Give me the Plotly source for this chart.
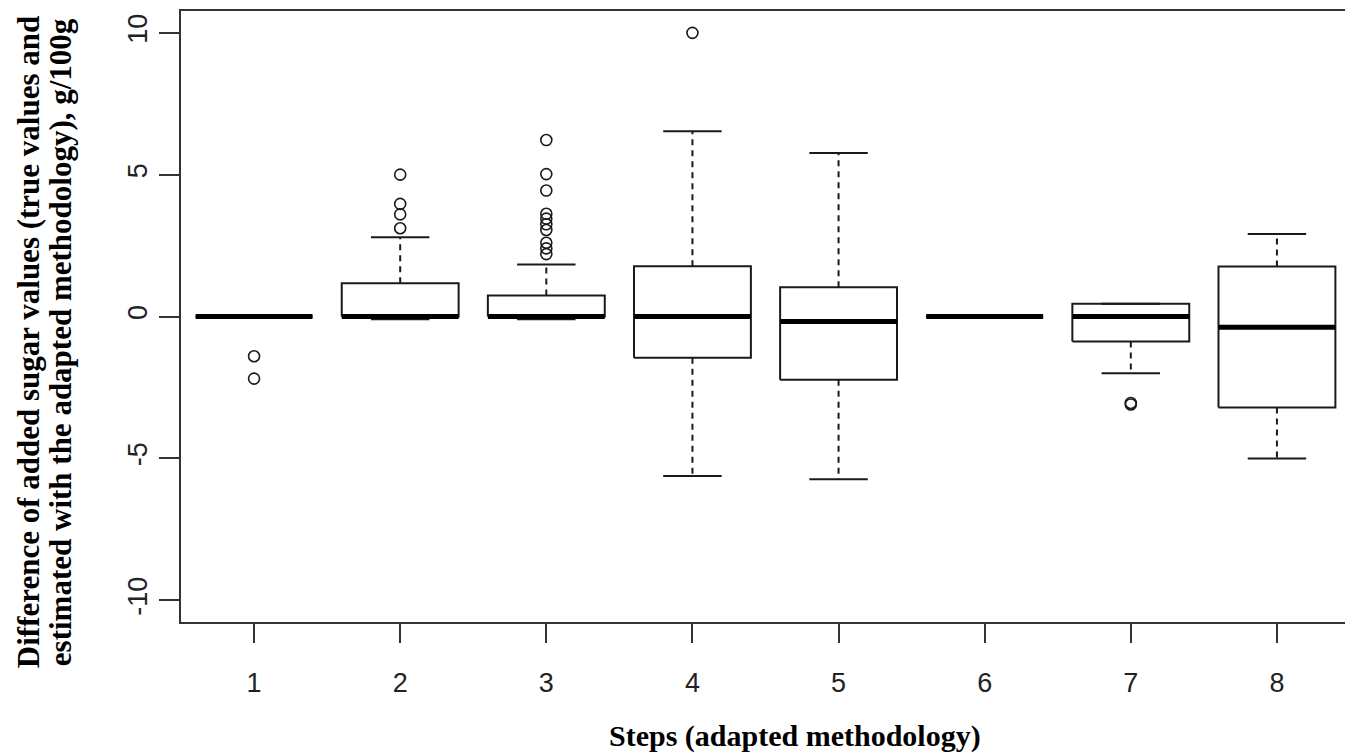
import plotly.graph_objects as go

# ---- data ----
steps = [1, 2, 3, 4, 5, 6, 7, 8]
tick_labels = ["1", "2", "3", "4", "5", "6", "7", "8"]
q1 = [0.0, 0.0, 0.0, -1.45, -2.23, 0.0, -0.88, -3.21]
median = [0.0, 0.0, 0.0, 0.0, -0.18, 0.0, 0.0, -0.38]
q3 = [0.0, 1.17, 0.74, 1.77, 1.03, 0.0, 0.45, 1.76]
lower_whisker = [0.0, -0.1, -0.1, -5.62, -5.74, 0.0, -2.0, -5.01]
upper_whisker = [0.0, 2.79, 1.83, 6.53, 5.76, 0.0, 0.45, 2.91]

outlier_step = [1, 1,
                2, 2, 2, 2,
                3, 3, 3, 3, 3, 3, 3, 3, 3, 3,
                4,
                7, 7]
outlier_value = [-1.4, -2.19,
                 3.11, 3.6, 3.97, 5.0,
                 6.22, 5.02, 4.44, 3.62, 3.45, 3.25, 3.05, 2.6, 2.4, 2.2,
                 10.0,
                 -3.05, -3.1]

y_ticks = [-10, -5, 0, 5, 10]

# ---- style ----
INK = "#1a1a1a"
BOX_HALF = 0.4
CAP_HALF = 0.2

fig = go.Figure()

for i, s in enumerate(steps):
    # box rectangle
    fig.add_trace(go.Scatter(
        x=[s - BOX_HALF, s + BOX_HALF, s + BOX_HALF, s - BOX_HALF, s - BOX_HALF],
        y=[q1[i], q1[i], q3[i], q3[i], q1[i]],
        mode="lines", line=dict(color=INK, width=2),
        fill="toself", fillcolor="white", hoverinfo="skip", showlegend=False))
    # whiskers (dashed)
    fig.add_trace(go.Scatter(
        x=[s, s, None, s, s],
        y=[q3[i], upper_whisker[i], None, q1[i], lower_whisker[i]],
        mode="lines", line=dict(color=INK, width=2, dash="6px,5px"),
        hoverinfo="skip", showlegend=False))
    # caps
    fig.add_trace(go.Scatter(
        x=[s - CAP_HALF, s + CAP_HALF, None, s - CAP_HALF, s + CAP_HALF],
        y=[upper_whisker[i], upper_whisker[i], None, lower_whisker[i], lower_whisker[i]],
        mode="lines", line=dict(color=INK, width=2),
        hoverinfo="skip", showlegend=False))
    # median (thick)
    fig.add_trace(go.Scatter(
        x=[s - BOX_HALF, s + BOX_HALF],
        y=[median[i], median[i]],
        mode="lines", line=dict(color="black", width=5),
        hoverinfo="skip", showlegend=False))

# outliers
fig.add_trace(go.Scatter(
    x=outlier_step, y=outlier_value, mode="markers",
    marker=dict(symbol="circle-open", size=11, color=INK, line=dict(width=1.6, color=INK)),
    hoverinfo="skip", showlegend=False))

# page body has an 8px default margin, so the figure is sized to fit in the window
fig.update_layout(
    width=1345, height=745,
    margin=dict(l=173, r=1, t=3, b=131),
    paper_bgcolor="white", plot_bgcolor="white",
    showlegend=False,
    font=dict(family="Liberation Sans, Arial, sans-serif", color="#222"),
)

fig.update_xaxes(
    range=[0.5, 8.5], tickmode="array", tickvals=steps, ticktext=tick_labels,
    showgrid=False, zeroline=False,
    showline=True, linecolor="#333", linewidth=2, mirror=True,
    ticks="outside", ticklen=19, tickwidth=2, tickcolor="#333",
    tickfont=dict(size=27, family="Liberation Sans, Arial, sans-serif", color="#222"),
    ticklabelstandoff=17,
)
fig.update_yaxes(
    range=[-10.77, 10.77], tickmode="array", tickvals=y_ticks,
    ticktext=[str(v) for v in y_ticks],
    showgrid=False, zeroline=False,
    showline=True, linecolor="#333", linewidth=2, mirror=True,
    ticks="outside", ticklen=20, tickwidth=2, tickcolor="#333",
    tickangle=-90,
    tickfont=dict(size=27, family="Liberation Sans, Arial, sans-serif", color="#222"),
    ticklabelstandoff=1,
)

# axis titles
X_TITLE_FONT = dict(family="Liberation Serif, Times New Roman, serif", size=30, color="black")
Y_TITLE_FONT = dict(family="Liberation Serif, Times New Roman, serif", size=31, color="black")
fig.add_annotation(
    text="<b>Steps (adapted methodology)</b>",
    xref="paper", yref="paper", x=0.525, y=0, yshift=-114,
    xanchor="center", yanchor="middle", showarrow=False, font=X_TITLE_FONT)
fig.add_annotation(
    text="<b>Difference of added sugar values (true values and</b>",
    xref="paper", yref="paper", x=0, y=0.458, xshift=-153,
    xanchor="center", yanchor="middle", textangle=-90, showarrow=False, font=Y_TITLE_FONT)
fig.add_annotation(
    text="<b>estimated with the adapted methodology), g/100g</b>",
    xref="paper", yref="paper", x=0, y=0.458, xshift=-121,
    xanchor="center", yanchor="middle", textangle=-90, showarrow=False, font=Y_TITLE_FONT)

fig.write_html("out.html")
